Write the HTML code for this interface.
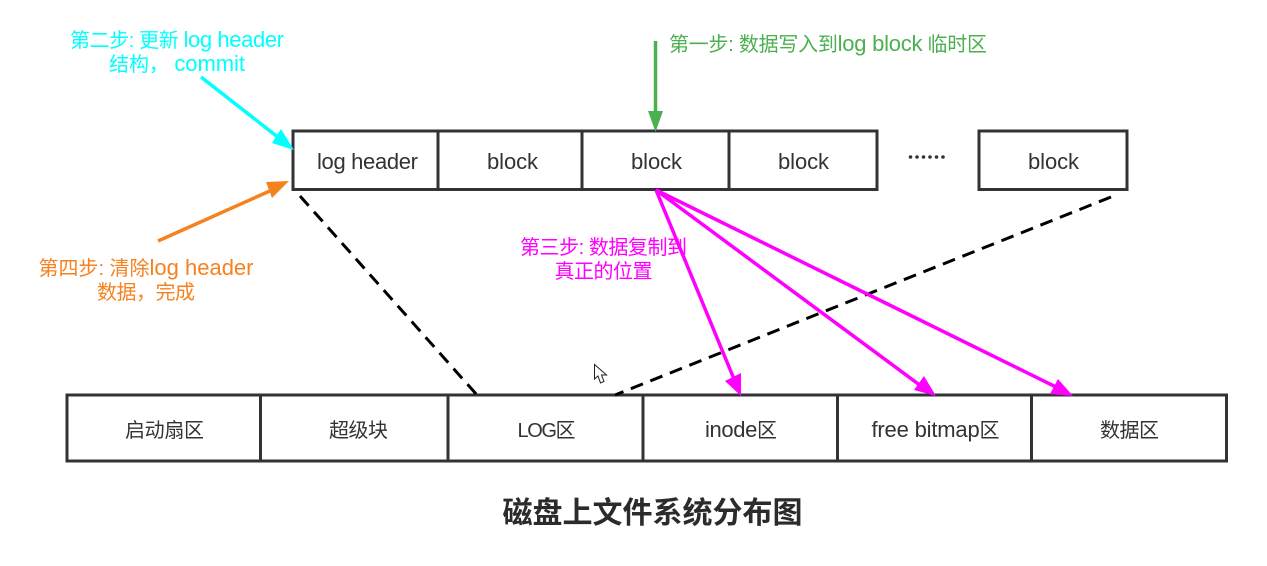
<!DOCTYPE html>
<html lang="zh">
<head>
<meta charset="utf-8">
<style>
html,body{margin:0;padding:0;background:#fff;width:1267px;height:566px;overflow:hidden}
svg{display:block}
text{font-family:"Liberation Sans","Noto Sans CJK SC",sans-serif;font-size:20px;fill:#333;text-anchor:middle}
.l{font-size:22px}
.b{fill:none;stroke:#333;stroke-width:3}
</style>
</head>
<body>
<svg width="1267" height="566" viewBox="0 0 1267 566" xmlns="http://www.w3.org/2000/svg">
<rect width="1267" height="566" fill="#fff"/>

<!-- top blocks -->
<rect class="b" x="293" y="131" width="145" height="58.500"/>
<rect class="b" x="438" y="131" width="144" height="58.500"/>
<rect class="b" x="582" y="131" width="147" height="58.500"/>
<rect class="b" x="729" y="131" width="148" height="58.500"/>
<rect class="b" x="979" y="131" width="148" height="58.500"/>
<text class="l" x="367.500" y="169" textLength="101">log header</text>
<text class="l" x="512.500" y="169" textLength="51">block</text>
<text class="l" x="656.500" y="169" textLength="51">block</text>
<text class="l" x="803.500" y="169" textLength="51">block</text>
<text class="l" x="1053.500" y="169" textLength="51">block</text>
<g fill="#333">
<circle cx="910.500" cy="157" r="1.800"/><circle cx="917" cy="157" r="1.800"/><circle cx="923.500" cy="157" r="1.800"/><circle cx="930" cy="157" r="1.800"/><circle cx="936.500" cy="157" r="1.800"/><circle cx="943" cy="157" r="1.800"/>
</g>

<!-- bottom blocks -->
<rect class="b" x="67" y="395" width="193.500" height="66"/>
<rect class="b" x="260.500" y="395" width="187.500" height="66"/>
<rect class="b" x="448" y="395" width="195" height="66"/>
<rect class="b" x="643" y="395" width="194.500" height="66"/>
<rect class="b" x="837.500" y="395" width="194" height="66"/>
<rect class="b" x="1031.500" y="395" width="195" height="66"/>
<text x="164.500" y="437" textLength="79">启动扇区</text>
<text x="358.500" y="437" textLength="59">超级块</text>
<text x="546.500" y="437" textLength="58">LOG区</text>
<text x="741" y="437" textLength="72"><tspan class="l">inode</tspan>区</text>
<text x="935.500" y="437" textLength="128"><tspan class="l">free bitmap</tspan>区</text>
<text x="1129.500" y="437" textLength="59">数据区</text>

<!-- dashed guide lines -->
<line x1="300" y1="196" x2="477" y2="395" stroke="#000" stroke-width="3" stroke-dasharray="13 8"/>
<line x1="1111" y1="197" x2="615" y2="395" stroke="#000" stroke-width="3" stroke-dasharray="13 8"/>

<!-- green arrow -->
<line x1="655.500" y1="41" x2="655.500" y2="112" stroke="#4caf50" stroke-width="3.500"/>
<polygon points="648,111 663,111 655.500,132" fill="#4caf50"/>
<!-- cyan arrow -->
<line x1="201" y1="77" x2="279" y2="138" stroke="#00ffff" stroke-width="3.500"/>
<polygon points="272,143 281,129 294,150" fill="#00ffff"/>
<!-- orange arrow -->
<line x1="158" y1="241" x2="272" y2="190" stroke="#f5821f" stroke-width="3.500"/>
<polygon points="266,182 289,181 272,198" fill="#f5821f"/>
<!-- magenta arrows -->
<g stroke="#ff00ff" stroke-width="3.500" fill="none">
<line x1="656" y1="190" x2="734" y2="379"/>
<line x1="656" y1="190" x2="921" y2="386"/>
<line x1="656" y1="190" x2="1058" y2="388"/>
</g>
<g fill="#ff00ff">
<polygon points="725,381 741,373 741,396"/>
<polygon points="914,390 924,376 936,396"/>
<polygon points="1050,394 1058,379 1073,396"/>
</g>

<!-- labels -->
<text x="177" y="47" textLength="214" style="fill:#00ffff">第二步: 更新 <tspan class="l">log header</tspan></text>
<text x="177" y="71" textLength="136" style="fill:#00ffff">结构， <tspan class="l">commit</tspan></text>
<text x="828" y="51" textLength="318" style="fill:#4caf50">第一步: 数据写入到<tspan class="l">log block</tspan> 临时区</text>
<text x="146" y="275" textLength="215" style="fill:#f5821f">第四步: 清除<tspan class="l">log header</tspan></text>
<text x="146" y="299" textLength="98" style="fill:#f5821f">数据，完成</text>
<text x="603.500" y="254" textLength="167" style="fill:#ff00ff">第三步: 数据复制到</text>
<text x="603.500" y="278" textLength="98" style="fill:#ff00ff">真正的位置</text>

<text x="652.500" y="523" textLength="300" style="font-size:30px;font-weight:bold;fill:#2b2b2b">磁盘上文件系统分布图</text>

<!-- cursor -->
<path d="M594.500 364.500 V379 L598 376 L600.500 383 L604 381.500 L601.500 375 L606.500 375 Z" fill="#fff" stroke="#222" stroke-width="1"/>
</svg>
</body>
</html>
